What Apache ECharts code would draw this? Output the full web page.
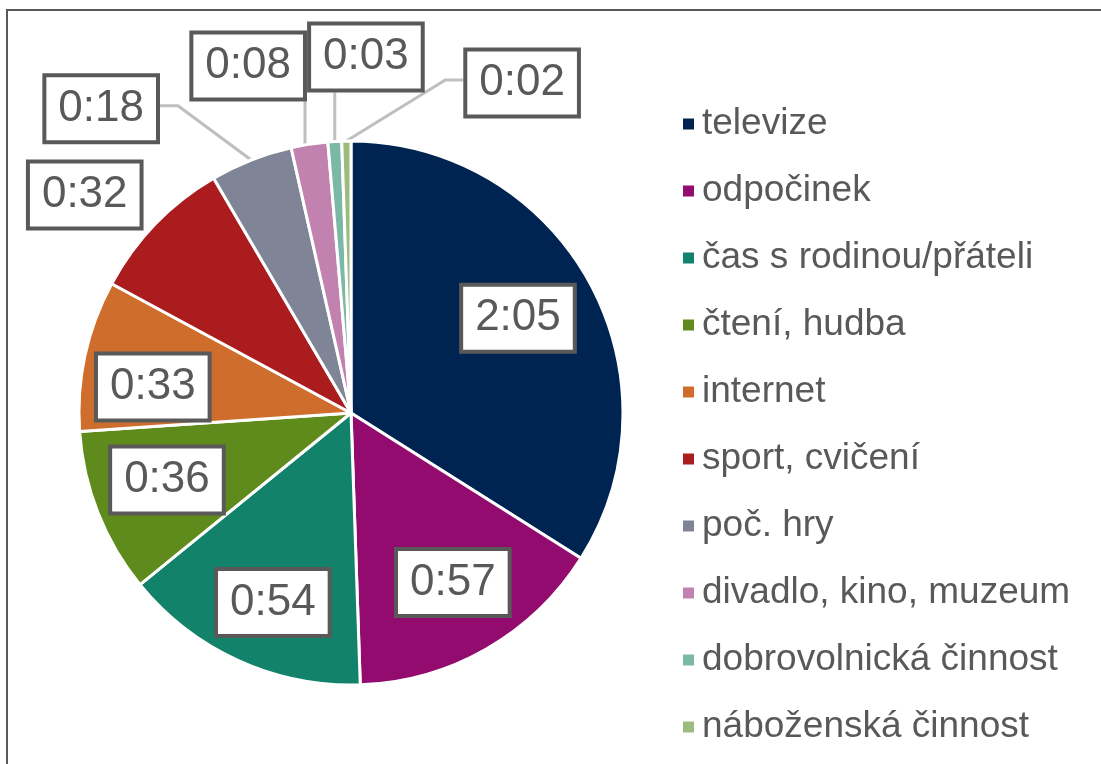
<!DOCTYPE html>
<html>
<head>
<meta charset="utf-8">
<title>Volný čas</title>
<script src="https://cdn.jsdelivr.net/npm/echarts@6/dist/echarts.min.js"></script>
<style>
  html, body { margin: 0; padding: 0; background: #fff; }
  #chart { width: 1101px; height: 764px; }
</style>
</head>
<body>
<div id="chart"></div>
<script>
// kategorie a průměrná doba v minutách
const categories = ['televize', 'odpočinek', 'čas s rodinou/přáteli', 'čtení, hudba', 'internet',
  'sport, cvičení', 'poč. hry', 'divadlo, kino, muzeum', 'dobrovolnická činnost', 'náboženská činnost'];
const minutes = [125, 57, 54, 36, 33, 32, 18, 8, 3, 2];

const colors = ['#002451', '#930B6E', '#12836A', '#5E8B1B', '#CF6E2C',
  '#AB1C1F', '#7F8596', '#C282AF', '#7BB8A6', '#9BBC7E'];

// umístění popisků: [úhel ve stupních od 12 h po směru, násobek poloměru]
const labelSpots = [[60.4, 0.706], [149, 0.727], [202.4, 0.754], [250, 0.72], [277.5, 0.735],
  [309.3, 1.265], [320.6, 1.447], [343.5, 1.331], [2.4, 1.31], [27.4, 1.367]];

const CX = 351, CY = 413, R = 272;

function fmt(v) {
  const m = v % 60;
  return Math.floor(v / 60) + ':' + (m < 10 ? '0' + m : m);
}

const total = minutes.reduce((a, b) => a + b, 0);
const midAngles = [];
let acc = 0;
minutes.forEach(v => {
  midAngles.push((acc + v / 2) / total * 360);
  acc += v;
});

function polar(a, r) {
  const rad = a * Math.PI / 180;
  return [CX + r * Math.sin(rad), CY - r * Math.cos(rad)];
}

let chart = echarts.init(document.getElementById('chart'));

const data = categories.map((name, i) => ({
  name: name,
  value: minutes[i],
  itemStyle: { color: colors[i] },
  labelLine: { show: labelSpots[i][1] > 1 }
}));

let option = {
  animation: false,
  graphic: [{
    type: 'rect',
    shape: { x: 7, y: 10, width: 1300, height: 1000 },
    style: { fill: 'none', stroke: '#595959', lineWidth: 2 },
    silent: true
  }],
  legend: {
    orient: 'vertical',
    left: 676,
    top: 99,
    icon: 'rect',
    itemWidth: 13,
    itemHeight: 13,
    itemGap: 27,
    data: categories,
    textStyle: {
      fontFamily: 'Liberation Sans',
      fontSize: 37,
      lineHeight: 40,
      color: '#595959',
      padding: [0, 0, 0, 2]
    }
  },
  series: [{
    type: 'pie',
    center: [CX, CY],
    radius: [0, R],
    startAngle: 90,
    clockwise: true,
    avoidLabelOverlap: false,
    itemStyle: { borderColor: '#ffffff', borderWidth: 3 },
    label: {
      show: true,
      position: 'outside',
      formatter: p => fmt(p.value),
      fontFamily: 'Liberation Sans',
      fontSize: 44,
      lineHeight: 44,
      color: '#595959',
      backgroundColor: '#ffffff',
      borderColor: '#595959',
      borderWidth: 4,
      padding: [10, 12, 9, 12]
    },
    labelLine: {
      show: true,
      lineStyle: { color: '#BFBFBF', width: 3 }
    },
    labelLayout: function (p) {
      const i = p.dataIndex;
      const spot = polar(labelSpots[i][0], labelSpots[i][1] * R);
      const w = p.labelRect.width, h = p.labelRect.height;
      const res = { x: spot[0], y: spot[1], align: 'center', verticalAlign: 'middle' };
      if (labelSpots[i][1] <= 1) return res;
      const e = polar(midAngles[i], R);
      const left = spot[0] - w / 2, right = spot[0] + w / 2;
      const top = spot[1] - h / 2, bottom = spot[1] + h / 2;
      let pts;
      if (e[0] >= left - 8 && e[0] <= right + 8) {
        const x = Math.min(Math.max(e[0], left + 2), right - 2);
        pts = [[x, e[1]], [x, (e[1] + bottom) / 2], [x, bottom]];
      } else {
        const side = e[0] > right ? right : left;
        const dir = e[0] > right ? 1 : -1;
        const yy = spot[1] - 3;
        pts = [e, [side + dir * 18, yy], [side, yy]];
      }
      const dx = Math.max(left - e[0], 0, e[0] - right);
      const dy = Math.max(top - e[1], 0, e[1] - bottom);
      if (Math.sqrt(dx * dx + dy * dy) < 25) {
        pts = [e, e, e];
      }
      res.labelLinePoints = pts;
      return res;
    },
    data: data
  }]
};

chart.setOption(option);
</script>
</body>
</html>
